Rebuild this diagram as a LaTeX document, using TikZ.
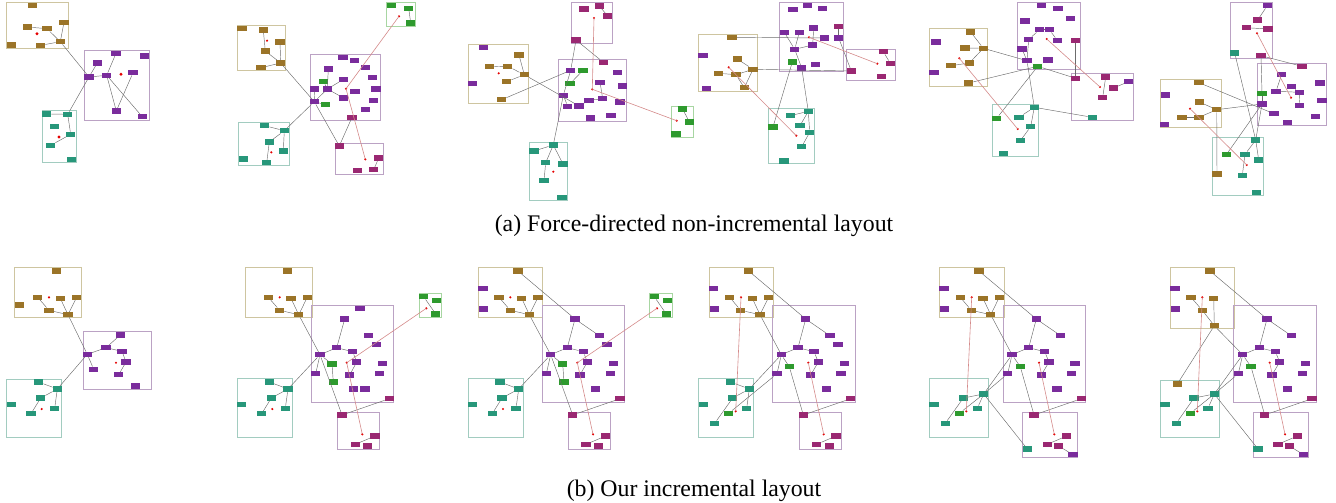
\documentclass[tikz,border=0pt]{standalone}
\usepackage{fontspec}
\setmainfont{Liberation Serif}
\definecolor{cb}{HTML}{9B7428}
\definecolor{cp}{HTML}{7A2C9C}
\definecolor{ct}{HTML}{27977A}
\definecolor{cg}{HTML}{2E9A2E}
\definecolor{cm}{HTML}{9A2872}
\definecolor{lb}{HTML}{CEC5A0}
\definecolor{lp}{HTML}{BBA2C4}
\definecolor{lt}{HTML}{A2CCC0}
\definecolor{lg}{HTML}{A8D6A2}
\definecolor{rl}{HTML}{D48A8A}
\tikzset{
 nb/.style={rectangle,minimum width=9.5pt,minimum height=5.5pt,inner sep=0pt,outer sep=0pt},
 bn/.style={nb,fill=cb},
 pn/.style={nb,fill=cp},
 tn/.style={nb,fill=ct},
 gn/.style={nb,fill=cg},
 mn/.style={nb,fill=cm},
 dot/.style={circle,fill=red!90!black,minimum size=2.4pt,inner sep=0pt,outer sep=0pt},
 bbox/.style={draw=lb,line width=0.9pt},
 pbox/.style={draw=lp,line width=0.9pt},
 tbox/.style={draw=lt,line width=0.9pt},
 gbox/.style={draw=lg,line width=0.9pt},
 mbox/.style={draw=lp,line width=0.9pt},
 edge/.style={draw=gray!85!black,line width=0.45pt},
 redline/.style={draw=rl,line width=0.6pt,shorten <=-1pt,shorten >=-1pt},
 captext/.style={font=\fontsize{23.8}{28}\selectfont,inner sep=0pt}
}
\newcommand\ND[4]{\node[#1] (#2) at (#3,#4) {};}
\newcommand\ED[2]{\draw[edge] (#1) -- (#2);}
\newcommand\RL[2]{\draw[redline] (#1) -- (#2);}
\newcommand\BX[5]{\draw[#1] (#2,#3) rectangle (#4,#5);}
\begin{document}
\begin{tikzpicture}[x=1pt,y=-1pt]
\useasboundingbox (0,0) rectangle (1336,503);
% ===== Panel A =====
\BX{bbox}{6.7}{2.7}{68.3}{48.3}
\BX{pbox}{84.7}{50.7}{149}{120}
\BX{tbox}{42.3}{110.7}{76.3}{162.3}
\ND{bn}{Ab1}{32.3}{5.7}\ND{bn}{Ab2}{27.7}{27}\ND{bn}{Ab3}{47}{28.7}\ND{bn}{Ab4}{64}{22.3}
\ND{bn}{Ab5}{11.3}{45}\ND{bn}{Ab6}{40.7}{45.3}\ND{bn}{Ab7}{60.3}{41.7}
\ND{pn}{Ap1}{89}{77}\ND{pn}{Ap2}{97.3}{63}\ND{pn}{Ap3}{106.7}{75.3}\ND{pn}{Ap4}{116}{53.3}
\ND{pn}{Ap5}{144.3}{56}\ND{pn}{Ap6}{133}{72.7}\ND{pn}{Ap7}{116.3}{111}\ND{pn}{Ap8}{142.3}{116.7}
\ND{tn}{At1}{46.7}{114}\ND{tn}{At2}{67.7}{114.3}\ND{tn}{At3}{54.7}{126.7}\ND{tn}{At4}{70.7}{134.3}
\ND{tn}{At5}{50.7}{145.3}\ND{tn}{At6}{71.7}{159.7}
\ED{Ab2}{Ab3}\ED{Ab3}{Ab7}\ED{Ab4}{Ab7}\ED{Ab6}{Ab7}\ED{Ab7}{Ap1}\ED{Ap1}{Ap3}\ED{Ap1}{Ap2}
\ED{Ap3}{Ap4}\ED{Ap3}{Ap7}\ED{Ap6}{Ap7}\ED{Ap3}{Ap8}\ED{At1}{At2}\ED{At2}{At4}\ED{At4}{At5}\ED{At2}{Ap1}
\node[dot,minimum size=3.2pt] (Abr) at (37,33.7) {};
\node[dot,minimum size=3.2pt] (Apr) at (121,74.3) {};
\node[dot,minimum size=3.2pt] (Atr) at (59,137) {};
% ===== Panel B =====
\BX{bbox}{237.3}{25.3}{285.3}{70.3}
\BX{gbox}{386.3}{2.7}{415.7}{26.3}
\BX{pbox}{310.3}{54.3}{380.3}{120.3}
\BX{tbox}{238.7}{122.7}{289.3}{165.3}
\BX{mbox}{335.3}{143.3}{383.3}{174}
\ND{bn}{Bb1}{242}{28.3}\ND{bn}{Bb2}{263.3}{30}\ND{bn}{Bb3}{280}{42}\ND{bn}{Bb4}{265.3}{51}
\ND{bn}{Bb5}{280.7}{63}\ND{bn}{Bb6}{261}{67.7}
\ND{gn}{Bg1}{391.3}{5.7}\ND{gn}{Bg2}{408.7}{8.3}\ND{gn}{Bg3}{410.7}{23}
\ND{pn}{Bp1}{343}{57.3}\ND{pn}{Bp2}{354.7}{60.3}\ND{pn}{Bp3}{328.3}{69}\ND{pn}{Bp4}{365.3}{67.7}
\ND{pn}{Bp5}{343.7}{79.3}\ND{pn}{Bp6}{372.7}{77.3}\ND{pn}{Bp7}{314.7}{89}\ND{pn}{Bp8}{327.3}{89}
\ND{pn}{Bp9}{355}{91.3}\ND{pn}{Bp10}{376}{89}\ND{pn}{Bp11}{343.7}{98}\ND{pn}{Bp12}{373.7}{100.3}
\ND{pn}{Bp13}{314.3}{101.7}\ND{pn}{Bp14}{365.7}{109.7}\ND{gn}{Bg4}{323.7}{81.7}\ND{gn}{Bg5}{325.7}{104.7}
\ND{mn}{Bm0}{352}{117.3}
\ND{tn}{Bt1}{264.7}{125.7}\ND{tn}{Bt2}{284.3}{130.7}\ND{tn}{Bt3}{269.3}{142}\ND{tn}{Bt4}{283.3}{151}
\ND{tn}{Bt5}{243.7}{159}\ND{tn}{Bt6}{266.7}{162.7}
\ND{mn}{Bm1}{339.3}{146}\ND{mn}{Bm2}{378.7}{158}\ND{mn}{Bm3}{373.7}{169.7}\ND{mn}{Bm4}{357.7}{170.7}
\ED{Bb2}{Bb4}\ED{Bb4}{Bb5}\ED{Bb3}{Bb5}\ED{Bb6}{Bb5}\ED{Bb5}{Bp13}\ED{Bg2}{Bg3}
\ED{Bp3}{Bp8}\ED{Bp5}{Bp8}\ED{Bg4}{Bp8}\ED{Bp8}{Bp13}\ED{Bp7}{Bp13}\ED{Bp13}{Bg5}\ED{Bp8}{Bp11}
\ED{Bp13}{Bt2}\ED{Bp13}{Bm1}\ED{Bm0}{Bm1}\ED{Bt1}{Bt2}\ED{Bt2}{Bt3}\ED{Bt2}{Bt4}\ED{Bt3}{Bt6}\ED{Bm2}{Bm3}
\node[dot] (Bbr) at (267,40.7) {};\node[dot] (Bgr) at (399,16.3) {};\node[dot] (Bpr) at (346,88.7) {};
\node[dot] (Btr) at (271.3,152.3) {};\node[dot] (Bmr) at (365.3,159.3) {};
\RL{Bgr}{Bpr}\RL{Bpr}{Bmr}
% ===== Panel C =====
\BX{mbox}{571.7}{2.7}{612.3}{43.3}
\BX{bbox}{468.3}{44.3}{528.7}{103}
\BX{pbox}{558.3}{59.3}{626.7}{121.3}
\BX{gbox}{671.3}{106.3}{693.7}{137.3}
\BX{tbox}{529.3}{142.3}{567.7}{200}
\ND{mn}{Cm1}{584}{9}\ND{mn}{Cm2}{599.3}{6}\ND{mn}{Cm3}{607.7}{16}\ND{mn}{Cm4}{576}{40}
\ND{pn}{Cq1}{483.3}{47.3}\ND{bn}{Cb1}{519}{55}\ND{bn}{Cb2}{489.7}{66.7}\ND{bn}{Cb3}{507.7}{66.3}
\ND{bn}{Cb4}{524.3}{74.7}\ND{bn}{Cb5}{506.7}{81.7}\ND{pn}{Cq2}{472.3}{83.3}\ND{bn}{Cb6}{501.7}{99.7}
\ND{pn}{Cp1}{570.7}{70.3}\ND{gn}{Cg1}{583}{70.3}\ND{gn}{Cg2}{570}{83.7}\ND{mn}{Cm0}{603.3}{62.3}
\ND{pn}{Cp2}{617.3}{72.7}\ND{pn}{Cp3}{600}{82.3}\ND{pn}{Cp4}{622.3}{86}\ND{pn}{Cp5}{563.3}{95.3}
\ND{pn}{Cp6}{602.7}{98.7}\ND{pn}{Cp7}{589}{100.3}\ND{pn}{Cp8}{620}{102}\ND{pn}{Cp9}{567.7}{106.3}
\ND{pn}{Cp10}{579}{106}\ND{pn}{Cp11}{611}{115.3}\ND{pn}{Cp12}{590.7}{118}
\ND{gn}{Cg3}{682.7}{109}\ND{gn}{Cg4}{689.3}{122}\ND{gn}{Cg5}{676}{134}
\ND{tn}{Ct1}{553.3}{145}\ND{tn}{Ct2}{534}{151}\ND{tn}{Ct3}{545.7}{162.7}\ND{tn}{Ct4}{563}{164}
\ND{tn}{Ct5}{544}{180.3}\ND{tn}{Ct6}{562}{197.3}
\ED{Cm2}{Cm3}\ED{Cm4}{Cp1}\ED{Cm4}{Cm0}\ED{Cp5}{Ct1}\ED{Cg1}{Cg2}\ED{Cb6}{Cp1}\ED{Cb4}{Cp10}
\ED{Cp5}{Cp9}\ED{Cp10}{Cp7}\ED{Cp7}{Cp6}\ED{Cp6}{Cp3}\ED{Cp1}{Cp5}
\ED{Cb1}{Cb4}\ED{Cb2}{Cb3}\ED{Cb3}{Cb4}\ED{Cb5}{Cb4}
\ED{Cg3}{Cg4}\ED{Ct1}{Ct2}\ED{Ct1}{Ct3}\ED{Ct1}{Ct4}\ED{Ct3}{Ct5}
\node[dot] (Cmr) at (594,18) {};\node[dot] (Cbr) at (498.7,73.3) {};\node[dot] (Cpr) at (592.3,89.3) {};
\node[dot] (Cgr) at (676.7,120.7) {};\node[dot] (Ctr) at (553.3,171.7) {};
\RL{Cmr}{Cpr}\RL{Cpr}{Cgr}
% ===== Panel D =====
\BX{pbox}{779.7}{2.7}{843.7}{71.3}
\BX{bbox}{698.3}{34.3}{757.7}{91.7}
\BX{mbox}{846.3}{49}{895.7}{80}
\BX{tbox}{768.7}{108.3}{814.3}{163.7}
\ND{pn}{Dp1}{807.3}{5.7}\ND{pn}{Dp2}{793}{9.7}\ND{pn}{Dp3}{822.3}{8.7}\ND{pn}{Dp4}{813.7}{28}
\ND{mn}{Dm0}{838.7}{26.7}\ND{pn}{Dp5}{784.3}{32.3}\ND{pn}{Dp6}{799.3}{32.3}\ND{pn}{Dp7}{824.7}{38}
\ND{pn}{Dp8}{838.7}{38}\ND{pn}{Dp9}{812.7}{45}\ND{pn}{Dp10}{794.7}{49.3}\ND{gn}{Dg1}{792.3}{62}
\ND{pn}{Dp11}{815.3}{64.7}\ND{pn}{Dp12}{801.7}{68}
\ND{bn}{Db1}{732}{37.3}\ND{pn}{Dq1}{703}{55.7}\ND{bn}{Db2}{737.3}{59}\ND{bn}{Db3}{753}{69.3}
\ND{bn}{Db4}{718.7}{73.3}\ND{bn}{Db5}{736}{74.7}\ND{bn}{Db6}{744.3}{87.7}\ND{pn}{Dq2}{706.3}{88.7}
\ND{mn}{Dm1}{883.3}{51.7}\ND{mn}{Dm2}{890.3}{63.3}\ND{mn}{Dm3}{881.7}{76.7}\ND{mn}{Dm4}{851.3}{71}
\ND{tn}{Dt1}{808.3}{111.3}\ND{tn}{Dt2}{790.3}{115.7}\ND{tn}{Dt3}{800}{125.7}\ND{gn}{Dg2}{773}{127}
\ND{tn}{Dt4}{809.7}{132.3}\ND{tn}{Dt5}{801.7}{146.7}\ND{tn}{Dt6}{784}{161}
\ED{Dp5}{Dp10}\ED{Dp6}{Dp10}\ED{Dp10}{Dp9}\ED{Dp9}{Dp4}\ED{Dp10}{Dp12}\ED{Dm0}{Dp8}\ED{Dp8}{Dm4}
\ED{Db1}{Dp7}\ED{Db3}{Dm4}\ED{Dp12}{Dt1}\ED{Dg1}{Dg2}\ED{Db2}{Db3}\ED{Db4}{Db5}\ED{Db5}{Db3}
\ED{Db6}{Db3}\ED{Db6}{Db5}\ED{Dm1}{Dm2}\ED{Dt1}{Dt2}\ED{Dt1}{Dt3}\ED{Dt1}{Dt4}\ED{Dt4}{Dt5}
\node[dot] (Dpr) at (809,37.3) {};\node[dot] (Dbr) at (728.7,67.3) {};\node[dot] (Dmr) at (877.3,63.7) {};
\node[dot] (Dtr) at (796.3,135.7) {};
\RL{Dbr}{Dtr}\RL{Dpr}{Dmr}
% ===== Panel E =====
\BX{pbox}{1017.3}{2.7}{1080.3}{69.3}
\BX{bbox}{929.3}{28.7}{987.3}{86.3}
\BX{mbox}{1071.7}{73.3}{1133.3}{120.3}
\BX{tbox}{992.7}{104.3}{1038.3}{156.7}
\ND{pn}{Ep1}{1041.7}{5.7}\ND{pn}{Ep2}{1058}{8.3}\ND{pn}{Ep3}{1070.7}{18.7}\ND{pn}{Ep4}{1025}{21}
\ND{pn}{Ep5}{1039.7}{29.7}\ND{pn}{Ep6}{1049.3}{29.7}\ND{pn}{Ep7}{1028.7}{39.3}\ND{pn}{Ep8}{1057.3}{40.3}
\ND{mn}{Em0}{1075.7}{40.7}\ND{pn}{Ep9}{1022}{49}\ND{pn}{Ep10}{1027}{60.7}\ND{pn}{Ep11}{1048}{60}
\ND{gn}{Eg1}{1037.7}{66.3}
\ND{bn}{Eb1}{970.7}{32}\ND{pn}{Eq1}{936}{42}\ND{bn}{Eb2}{965}{48}\ND{bn}{Eb3}{983.3}{48.3}
\ND{bn}{Eb4}{969.3}{63}\ND{bn}{Eb5}{951}{65.7}\ND{pn}{Eq2}{934}{72.7}\ND{bn}{Eb6}{968.7}{83}
\ND{mn}{Em2}{1075.7}{78.3}\ND{mn}{Em3}{1105.7}{77}\ND{pn}{Eq3}{1128.7}{81.7}\ND{mn}{Em4}{1113.3}{88}
\ND{mn}{Em5}{1102.7}{97.3}\ND{tn}{Eu}{1092.3}{117.3}
\ND{tn}{Et1}{1034.3}{107.3}\ND{gn}{Eg2}{996.7}{118.3}\ND{tn}{Et2}{1019}{117.3}\ND{tn}{Et3}{1030.7}{126.7}
\ND{tn}{Et4}{1020.3}{140.7}\ND{tn}{Et5}{1003.3}{153.7}
\ED{Ep5}{Ep7}\ED{Ep6}{Ep8}\ED{Ep7}{Ep10}\ED{Ep9}{Ep10}\ED{Ep5}{Ep6}\ED{Eb1}{Eb3}\ED{Eb2}{Eb3}
\ED{Eb4}{Eb3}\ED{Eb5}{Eb4}\ED{Eb3}{Ep10}\ED{Eb6}{Eg1}\ED{Eg1}{Eg2}\ED{Ep10}{Et1}\ED{Eg1}{Em2}
\ED{Em0}{Em2}\ED{Em3}{Em5}\ED{Em4}{Eq3}\ED{Et1}{Et2}\ED{Et1}{Et3}\ED{Et3}{Et4}\ED{Et1}{Eu}
\node[dot] (Epr) at (1046.7,39) {};\node[dot] (Ebr) at (959.3,58.3) {};\node[dot] (Emr) at (1100,87) {};
\node[dot] (Etr) at (1017.7,129) {};
\RL{Ebr}{Etr}\RL{Epr}{Emr}
% ===== Panel F =====
\BX{mbox}{1230}{2.7}{1272.7}{58.7}
\BX{pbox}{1257.3}{63.3}{1326.3}{125.7}
\BX{bbox}{1160.3}{79.3}{1221.7}{127.3}
\BX{tbox}{1212.3}{137}{1263.7}{195}
\ND{pn}{Fq1}{1267.3}{5.7}\ND{mn}{Fm1}{1257.7}{20}\ND{mn}{Fm2}{1246.3}{27.7}\ND{mn}{Fm3}{1268}{29}
\ND{tn}{Fu}{1234.7}{53}\ND{mn}{Fm4}{1261}{55.7}
\ND{mn}{Fm5}{1302}{66.3}\ND{pn}{Fp1}{1281.7}{74.3}\ND{pn}{Fp2}{1320}{83}\ND{pn}{Fp3}{1291.3}{86.3}
\ND{pn}{Fp4}{1276}{91.3}\ND{pn}{Fp5}{1299.7}{92.3}\ND{gn}{Fg1}{1262}{93.7}\ND{pn}{Fp6}{1322}{100.3}
\ND{pn}{Fp7}{1262}{104}\ND{pn}{Fp8}{1299.3}{105.3}\ND{pn}{Fp9}{1274}{113.7}\ND{pn}{Fp10}{1315.3}{116.7}
\ND{pn}{Fp11}{1287.7}{122.7}
\ND{bn}{Fb1}{1199}{82.7}\ND{pn}{Fq2}{1165.3}{95}\ND{bn}{Fb2}{1199.3}{102}\ND{bn}{Fb3}{1216.7}{109.7}
\ND{bn}{Fb4}{1182}{117.3}\ND{bn}{Fb5}{1199}{117.3}\ND{pn}{Fq3}{1164.3}{124.7}
\ND{tn}{Ft1}{1255.7}{140}\ND{tn}{Ft2}{1245}{154.3}\ND{gn}{Fg2}{1226.3}{154.7}\ND{tn}{Ft3}{1258.7}{160}
\ND{bn}{Fb6}{1217}{174}\ND{tn}{Ft4}{1242.3}{175.3}\ND{tn}{Ft5}{1256.7}{192.3}
\ED{Fq1}{Fm1}\ED{Fm2}{Fm3}\ED{Fm4}{Fm5}\ED{Fm4}{Fg1}\ED{Fg1}{Fp7}\ED{Fu}{Ft1}\ED{Fp1}{Fp4}\ED{Fp4}{Fp5}
\ED{Fp3}{Fp5}\ED{Fp5}{Fp8}\ED{Fb1}{Fp9}\ED{Fb3}{Fp7}\ED{Fb3}{Fb6}\ED{Fb2}{Fb3}\ED{Fb4}{Fb5}\ED{Fb5}{Fb3}
\ED{Fp7}{Ft1}\ED{Fp7}{Fg2}\ED{Ft1}{Ft2}\ED{Ft1}{Ft3}\ED{Ft2}{Ft4}
\node[dot] (Fmr) at (1257,33.3) {};\node[dot] (Fpr) at (1291,97.7) {};\node[dot] (Fbr) at (1190,108.7) {};
\node[dot] (Ftr) at (1246.7,165) {};
\RL{Fmr}{Fpr}\RL{Fbr}{Ftr}
% ===== Panel G =====
\BX{bbox}{14.3}{267.7}{81.7}{317.7}
\BX{pbox}{83.3}{331.3}{151.7}{389.3}
\BX{tbox}{6.3}{379}{61.3}{437}
\ND{bn}{Gb1}{56.7}{271}\ND{bn}{Gb2}{19.3}{305}\ND{bn}{Gb3}{37.7}{297.3}\ND{bn}{Gb4}{60.3}{298.3}
\ND{bn}{Gb5}{76.7}{297.3}\ND{bn}{Gb6}{49}{310.3}\ND{bn}{Gb7}{68}{314.7}
\ND{pn}{Gp1}{87.3}{354.3}\ND{pn}{Gp2}{120.3}{335}\ND{pn}{Gp3}{106}{347.7}\ND{pn}{Gp4}{122}{351.3}
\ND{pn}{Gp5}{126}{362}\ND{pn}{Gp6}{93.7}{369.3}\ND{pn}{Gp7}{118.7}{374.7}\ND{pn}{Gp8}{135.7}{386}
\ND{tn}{Gt1}{38.7}{382}\ND{tn}{Gt2}{57.3}{389}\ND{tn}{Gt3}{40.7}{398}\ND{tn}{Gt4}{11.3}{404.7}
\ND{tn}{Gt5}{54.7}{408.3}\ND{tn}{Gt6}{31}{413.7}
\ED{Gb3}{Gb6}\ED{Gb6}{Gb7}\ED{Gb4}{Gb7}\ED{Gb5}{Gb7}\ED{Gb7}{Gp1}\ED{Gp1}{Gp3}\ED{Gp3}{Gp2}
\ED{Gp3}{Gp4}\ED{Gp4}{Gp5}\ED{Gp5}{Gp7}\ED{Gp1}{Gp6}\ED{Gp1}{Gt2}\ED{Gt1}{Gt2}\ED{Gt2}{Gt3}
\ED{Gt2}{Gt5}\ED{Gt3}{Gt6}
\node[dot] (Gbr) at (49,297.3) {};\node[dot] (Gpr) at (116,362.7) {};\node[dot] (Gtr) at (41.7,409) {};
% ===== Panel H =====
\BX{bbox}{245.3}{267.7}{312.3}{317.7}
\BX{pbox}{311.3}{305.7}{393.7}{402.7}
\BX{gbox}{419.3}{293.3}{441.7}{317.3}
\BX{tbox}{237.3}{378.3}{292.7}{437}
\BX{mbox}{337.3}{412.3}{379.7}{449}
\ND{bn}{Hb1}{287.3}{271}\ND{bn}{Hb2}{268.3}{297.3}\ND{bn}{Hb3}{291}{298.3}\ND{bn}{Hb4}{307.3}{297.3}
\ND{bn}{Hb5}{279.7}{310.3}\ND{bn}{Hb6}{298.7}{314.7}
\ND{pn}{Hp0}{360}{308.7}\ND{pn}{Hp2}{344.7}{319}\ND{pn}{Hp3}{368.3}{335.7}\ND{pn}{Hp4}{376.7}{344.7}
\ND{pn}{Hp5}{336.7}{347.7}\ND{pn}{Hp6}{352.7}{351.7}\ND{pn}{Hp1}{320}{354.7}\ND{pn}{Hp7}{356.7}{362}
\ND{gn}{Hg1}{332}{364}\ND{pn}{Hp8}{382.7}{363.7}\ND{pn}{Hp9}{315.7}{373.7}\ND{pn}{Hp10}{349.7}{375}
\ND{pn}{Hp11}{379.3}{373.7}\ND{gn}{Hg2}{333.3}{382}\ND{pn}{Hp12}{353.3}{389}\ND{pn}{Hp13}{365}{389}
\ND{mn}{Hm0}{389.3}{398.7}
\ND{gn}{Hg3}{423.7}{296.7}\ND{gn}{Hg4}{436.7}{300.3}\ND{gn}{Hg5}{435.7}{314}
\ND{tn}{Ht1}{269.3}{382}\ND{tn}{Ht2}{288}{389}\ND{tn}{Ht3}{271.3}{398}\ND{tn}{Ht4}{241.7}{404.7}
\ND{tn}{Ht5}{285.3}{408.3}\ND{tn}{Ht6}{261.7}{413.7}
\ND{mn}{Hm1}{342}{415}\ND{mn}{Hm2}{375}{436}\ND{mn}{Hm3}{355.3}{444.3}\ND{mn}{Hm4}{367.7}{446}
\ED{Hb2}{Hb5}\ED{Hb5}{Hb6}\ED{Hb3}{Hb6}\ED{Hb4}{Hb6}\ED{Hb6}{Hp1}\ED{Hp1}{Hp5}\ED{Hp5}{Hp2}
\ED{Hp5}{Hp6}\ED{Hp6}{Hp7}\ED{Hp7}{Hp10}\ED{Hp1}{Hp9}\ED{Hp1}{Hg1}\ED{Hg1}{Hg2}\ED{Hp1}{Ht2}
\ED{Hp1}{Hm1}\ED{Hm1}{Hm0}\ED{Hg3}{Hg5}\ED{Ht1}{Ht2}\ED{Ht2}{Ht3}\ED{Ht2}{Ht5}\ED{Ht3}{Ht6}\ED{Hm2}{Hm3}
\node[dot] (Hbr) at (279.7,297.3) {};\node[dot] (Hpr) at (346.7,362.7) {};\node[dot] (Hgr) at (426.3,308.3) {};
\node[dot] (Htr) at (272.3,409) {};\node[dot] (Hmr) at (362.3,434.3) {};
\RL{Hgr}{Hpr}\RL{Hpr}{Hmr}
% ===== Panel I =====
\BX{bbox}{478.3}{267.7}{542.7}{317.7}
\BX{pbox}{542}{305.7}{624.3}{402.7}
\BX{gbox}{649.7}{293.3}{672.3}{317.3}
\BX{tbox}{468}{378.3}{523.3}{437}
\BX{mbox}{568}{412.3}{610.3}{449}
\ND{bn}{Ib1}{518}{271}\ND{pn}{Iq1}{483}{288.7}\ND{bn}{Ib2}{499}{297.3}\ND{bn}{Ib3}{521.7}{298.3}
\ND{bn}{Ib4}{538}{297.3}\ND{pn}{Iq2}{483.7}{309}\ND{bn}{Ib5}{510.3}{310.3}\ND{bn}{Ib6}{529.3}{314.7}
\ND{pn}{Ip0}{575}{319}\ND{pn}{Ip2}{599.3}{335.7}\ND{pn}{Ip3}{607}{344.7}\ND{pn}{Ip4}{567.3}{347.7}
\ND{pn}{Ip5}{583.3}{351.7}\ND{pn}{Ip1}{550.7}{354.7}\ND{pn}{Ip6}{587.3}{362}\ND{gn}{Ig1}{562.7}{364}
\ND{pn}{Ip7}{613.7}{363.7}\ND{pn}{Ip8}{546.3}{373.7}\ND{pn}{Ip9}{580}{375}\ND{pn}{Ip10}{610.3}{373.7}
\ND{gn}{Ig2}{564}{382}\ND{pn}{Ip11}{595.7}{389}\ND{mn}{Im0}{620}{398.7}
\ND{gn}{Ig3}{654.3}{296.7}\ND{gn}{Ig4}{667.3}{300.3}\ND{gn}{Ig5}{666.3}{314}
\ND{tn}{It1}{500}{382}\ND{tn}{It2}{518.7}{389}\ND{tn}{It3}{502}{398}\ND{tn}{It4}{472.3}{404.7}
\ND{tn}{It5}{516}{408.3}\ND{tn}{It6}{492.3}{413.7}
\ND{mn}{Im1}{572.7}{415}\ND{mn}{Im2}{605.7}{436}\ND{mn}{Im3}{586}{444.3}\ND{mn}{Im4}{598.3}{446}
\ED{Ib2}{Ib5}\ED{Ib5}{Ib6}\ED{Ib3}{Ib6}\ED{Ib4}{Ib6}\ED{Ib6}{Ip1}\ED{Ib1}{Ip0}\ED{Ip0}{Ip2}\ED{Ip0}{Ip4}
\ED{Ip4}{Ip1}\ED{Ip4}{Ip5}\ED{Ip5}{Ip6}\ED{Ip6}{Ip9}\ED{Ip1}{Ip8}\ED{Ip1}{Ig1}\ED{Ig1}{Ig2}\ED{Ip1}{It2}
\ED{Ip1}{Im1}\ED{Im1}{Im0}\ED{Ig3}{Ig5}\ED{It1}{It2}\ED{It2}{It3}\ED{It2}{It5}\ED{It3}{It6}\ED{Im2}{Im3}
\node[dot] (Ibr) at (510.3,297.3) {};\node[dot] (Ipr) at (577.3,362.7) {};\node[dot] (Igr) at (657,308.3) {};
\node[dot] (Itr) at (503,409) {};\node[dot] (Imr) at (593,434.3) {};
\RL{Igr}{Ipr}\RL{Ipr}{Imr}
% ===== Panel J =====
\BX{bbox}{709.3}{267.7}{773.3}{317.7}
\BX{pbox}{772.7}{305.7}{855.3}{402.7}
\BX{tbox}{698.3}{378.3}{753.7}{437}
\BX{mbox}{799.3}{412.3}{841.7}{449}
\ND{bn}{Jb1}{748.7}{271}\ND{pn}{Jq1}{713.7}{288.7}\ND{bn}{Jb2}{729.7}{297.3}\ND{bn}{Jb3}{752.3}{298.3}
\ND{bn}{Jb4}{768.7}{297.3}\ND{pn}{Jq2}{714.3}{309}\ND{bn}{Jb5}{740.7}{310.3}\ND{bn}{Jb6}{760}{314.7}
\ND{pn}{Jp0}{805.7}{319}\ND{pn}{Jp2}{830}{335.7}\ND{pn}{Jp3}{838}{344.7}\ND{pn}{Jp4}{798}{347.7}
\ND{pn}{Jp5}{814}{351.7}\ND{pn}{Jp1}{781.3}{354.7}\ND{pn}{Jp6}{818.3}{362}\ND{gn}{Jg1}{789.3}{366.7}
\ND{pn}{Jp7}{844.3}{363.7}\ND{pn}{Jp8}{777}{373.7}\ND{pn}{Jp9}{810.7}{375}\ND{pn}{Jp10}{841}{373.7}
\ND{pn}{Jp11}{826.3}{389}\ND{mn}{Jm0}{850.7}{398.7}
\ND{tn}{Jt1}{730.7}{382}\ND{tn}{Jt2}{749.3}{389}\ND{tn}{Jt3}{732.7}{398}\ND{tn}{Jt4}{703.3}{404.7}
\ND{tn}{Jt5}{746.7}{408.3}\ND{gn}{Jg2}{728.7}{413.3}\ND{tn}{Jt6}{714.7}{423.3}
\ND{mn}{Jm1}{803.3}{415}\ND{mn}{Jm2}{836}{436}\ND{mn}{Jm3}{816.7}{444.3}\ND{mn}{Jm4}{829.3}{446}
\ED{Jb2}{Jb5}\ED{Jb5}{Jb6}\ED{Jb3}{Jb6}\ED{Jb4}{Jb6}\ED{Jb6}{Jp1}\ED{Jb1}{Jp0}\ED{Jp0}{Jp2}\ED{Jp0}{Jp4}
\ED{Jp4}{Jp1}\ED{Jp4}{Jp5}\ED{Jp5}{Jp6}\ED{Jp6}{Jp9}\ED{Jp1}{Jp8}\ED{Jp1}{Jg1}\ED{Jp1}{Jt2}\ED{Jp8}{Jg2}
\ED{Jg1}{Jm1}\ED{Jm1}{Jm0}\ED{Jt1}{Jt2}\ED{Jt2}{Jt3}\ED{Jt2}{Jt5}\ED{Jt3}{Jt6}\ED{Jm2}{Jm3}
\node[dot] (Jbr) at (741,297.3) {};\node[dot] (Jpr) at (808.3,362.7) {};
\node[dot] (Jtr) at (735.7,411.3) {};\node[dot] (Jmr) at (823.7,434.3) {};
\RL{Jbr}{Jtr}\RL{Jpr}{Jmr}
% ===== Panel K =====
\BX{bbox}{939.3}{267.7}{1004}{317.7}
\BX{pbox}{1003.3}{305.7}{1085.7}{402.7}
\BX{tbox}{929.3}{378.3}{988.3}{437}
\BX{mbox}{1022.3}{412.3}{1077.3}{457.3}
\ND{bn}{Kb1}{979}{271}\ND{pn}{Kq1}{944}{288.7}\ND{bn}{Kb2}{960.3}{297.3}\ND{bn}{Kb3}{983}{298.3}
\ND{bn}{Kb4}{999.3}{297.3}\ND{pn}{Kq2}{944.7}{309}\ND{bn}{Kb5}{971.3}{310.3}\ND{bn}{Kb6}{990.7}{314.7}
\ND{pn}{Kp0}{1036.3}{319}\ND{pn}{Kp2}{1060.7}{335.7}\ND{pn}{Kp4}{1028.7}{347.7}\ND{pn}{Kp5}{1044.7}{351.7}
\ND{pn}{Kp1}{1012}{354.7}\ND{pn}{Kp6}{1049}{362}\ND{gn}{Kg1}{1020.3}{366.7}\ND{pn}{Kp7}{1075}{363.7}
\ND{pn}{Kp8}{1007.7}{373.7}\ND{pn}{Kp9}{1041.3}{375}\ND{pn}{Kp10}{1071.7}{373.7}\ND{pn}{Kp11}{1057}{389}
\ND{mn}{Km0}{1081.3}{398.7}
\ND{tn}{Kt1}{963.3}{398}\ND{tn}{Kt2}{983.7}{394}\ND{tn}{Kt4}{934}{404.7}\ND{tn}{Kt5}{977.3}{408.3}
\ND{gn}{Kg2}{959.3}{413.3}\ND{tn}{Kt6}{945.3}{423.3}
\ND{mn}{Km1}{1034}{415}\ND{mn}{Km2}{1066.7}{436}\ND{mn}{Km3}{1047.3}{444.3}\ND{mn}{Km4}{1058.7}{446}
\ND{tn}{Ku}{1027.3}{449}\ND{pn}{Kq3}{1073}{454.7}
\ED{Kb2}{Kb5}\ED{Kb5}{Kb6}\ED{Kb3}{Kb6}\ED{Kb4}{Kb6}\ED{Kb6}{Kp1}\ED{Kb1}{Kp0}\ED{Kp0}{Kp2}\ED{Kp0}{Kp4}
\ED{Kp4}{Kp1}\ED{Kp4}{Kp5}\ED{Kp5}{Kp6}\ED{Kp6}{Kp9}\ED{Kp1}{Kp8}\ED{Kp1}{Kg1}\ED{Kp1}{Kt2}\ED{Kp8}{Kt2}
\ED{Kg1}{Km1}\ED{Km1}{Km0}\ED{Kt1}{Kt2}\ED{Kt2}{Kt5}\ED{Kt1}{Kt6}\ED{Kt2}{Kg2}\ED{Kt2}{Ku}\ED{Km2}{Km3}\ED{Km4}{Kq3}
\node[dot] (Kbr) at (971.7,297.3) {};\node[dot] (Kpr) at (1039,362.7) {};
\node[dot] (Ktr) at (966.3,411.3) {};\node[dot] (Kmr) at (1054.3,434.3) {};
\RL{Kbr}{Ktr}\RL{Kpr}{Kmr}
% ===== Panel L =====
\BX{bbox}{1170.3}{267.7}{1234.7}{328.7}
\BX{pbox}{1233.7}{305.7}{1316.3}{402.7}
\BX{tbox}{1160.3}{380.3}{1219}{437}
\BX{mbox}{1253.3}{412.3}{1308.3}{457.3}
\ND{bn}{Lb1}{1210}{271}\ND{pn}{Lq1}{1175}{288.7}\ND{bn}{Lb2}{1191}{297.3}\ND{bn}{Lb3}{1213.7}{298.3}
\ND{pn}{Lq2}{1175.7}{309}\ND{bn}{Lb5}{1202.3}{310.3}\ND{bn}{Lb6}{1214.3}{325.7}
\ND{pn}{Lp0}{1267}{319}\ND{pn}{Lp2}{1291.3}{335.7}\ND{pn}{Lp4}{1259.3}{347.7}\ND{pn}{Lp5}{1275.3}{351.7}
\ND{pn}{Lp1}{1242.7}{354.7}\ND{pn}{Lp6}{1279.7}{362}\ND{gn}{Lg1}{1251}{366.7}\ND{pn}{Lp7}{1305.7}{363.7}
\ND{pn}{Lp8}{1238.3}{373.7}\ND{pn}{Lp9}{1272}{375}\ND{pn}{Lp10}{1302.3}{373.7}\ND{pn}{Lp11}{1287.7}{389}
\ND{mn}{Lm0}{1312}{398.7}
\ND{bn}{Lb7}{1177.3}{384}\ND{tn}{Lt1}{1194}{398}\ND{tn}{Lt2}{1214.3}{394}\ND{tn}{Lt4}{1165}{404.7}
\ND{tn}{Lt5}{1208}{408.3}\ND{gn}{Lg2}{1190.3}{413.3}\ND{tn}{Lt6}{1176.3}{423.3}
\ND{mn}{Lm1}{1264.7}{415}\ND{mn}{Lm2}{1297.3}{436}\ND{mn}{Lm3}{1278}{444.3}\ND{mn}{Lm4}{1289.3}{446}
\ND{tn}{Lu}{1258}{449}\ND{pn}{Lq3}{1303.7}{454.7}
\ED{Lb2}{Lb5}\ED{Lb5}{Lb6}\ED{Lb3}{Lb6}\ED{Lb6}{Lp1}\ED{Lb6}{Lb7}\ED{Lb1}{Lp0}\ED{Lp0}{Lp2}\ED{Lp0}{Lp4}
\ED{Lp4}{Lp1}\ED{Lp4}{Lp5}\ED{Lp5}{Lp6}\ED{Lp6}{Lp9}\ED{Lp1}{Lp8}\ED{Lp1}{Lg1}\ED{Lp1}{Lt2}\ED{Lp8}{Lt2}
\ED{Lg1}{Lm1}\ED{Lm1}{Lm0}\ED{Lt1}{Lt2}\ED{Lt2}{Lt5}\ED{Lt1}{Lt6}\ED{Lt2}{Lg2}\ED{Lt2}{Lu}\ED{Lm2}{Lm3}\ED{Lm4}{Lq3}
\node[dot] (Lbr) at (1202.3,297.3) {};\node[dot] (Lpr) at (1269.7,362.7) {};
\node[dot] (Ltr) at (1197.3,411.3) {};\node[dot] (Lmr) at (1285,434.3) {};
\RL{Lbr}{Ltr}\RL{Lpr}{Lmr}
% ===== captions =====
\node[captext] (capa) at (694,226) {(a) Force-directed non-incremental layout};
\node[captext] (capb) at (694,491) {(b) Our incremental layout};
\end{tikzpicture}
\end{document}
